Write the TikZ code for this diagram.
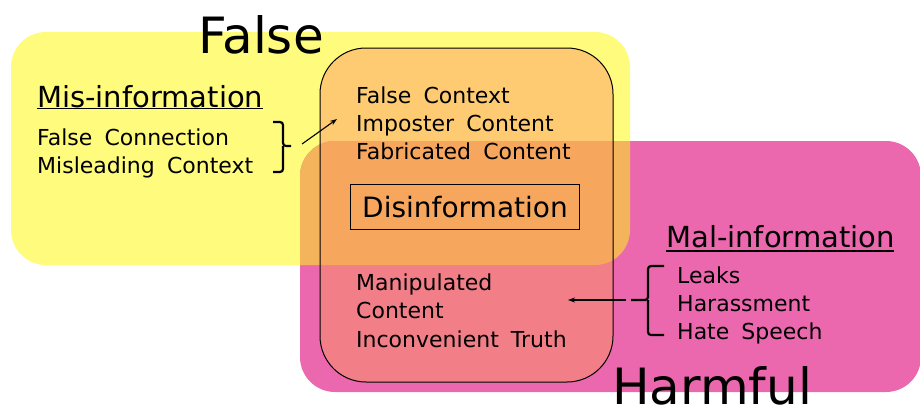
\documentclass[tikz,border=0pt]{standalone}
\usepackage{fontspec}
\setmainfont{DejaVu Sans}
\usetikzlibrary{arrows.meta}
\definecolor{yel}{HTML}{FFFC7D}
\definecolor{pnk}{HTML}{EB68AF}
\definecolor{yp}{HTML}{F3B45B}
\definecolor{iy}{HTML}{FECB72}
\definecolor{iyp}{HTML}{F7A65E}
\definecolor{ip}{HTML}{F27E88}
\newcommand{\itemfont}{\fontsize{22}{28}\selectfont\spaceskip=0.55em\relax}
\begin{document}
\begin{tikzpicture}[x=1pt,y=-1pt,
  big/.style={font=\fontsize{50}{60}\selectfont, inner sep=0pt, anchor=base west},
  head/.style={font=\fontsize{29}{34}\selectfont, inner sep=0pt, anchor=base west},
  item/.style={font=\itemfont, inner sep=0pt, anchor=base west},
  brace/.style={line width=2.2pt, rounded corners=3pt},
  link/.style={line width=1.1pt, -{Stealth[length=7pt,width=5pt]}},
  uline/.style={line width=1.2pt},
]
\useasboundingbox (0,0) rectangle (920,407);
% regions
\fill[yel, rounded corners=35pt] (11,32) rectangle (630,265);
\fill[pnk, rounded corners=35pt] (300,141) rectangle (921,392);
\begin{scope}
  \clip[rounded corners=35pt] (11,32) rectangle (630,265);
  \fill[yp, rounded corners=35pt] (300,141) rectangle (921,392);
\end{scope}
\begin{scope}
  \clip[rounded corners=46pt] (320,48) rectangle (613,382);
  \fill[iy] (300,30) rectangle (640,400);
  \begin{scope}
    \clip[rounded corners=35pt] (300,141) rectangle (921,392);
    \fill[ip] (300,30) rectangle (640,400);
    \clip[rounded corners=35pt] (11,32) rectangle (630,265);
    \fill[iyp] (300,30) rectangle (640,400);
  \end{scope}
\end{scope}
\draw[line width=1pt, rounded corners=46pt] (320,48) rectangle (613,382);
% titles
\node[big] (false) at (198,53) {False};
\node[big] (harmful) at (612,404) {Harmful};
% mis-information
\node[head] (mis) at (37,107) {Mis-information};
\draw[uline] (37,108.5) -- (263,108.5);
\node[item] (mis1) at (37,145) {False Connection};
\node[item] (mis2) at (37,173) {Misleading Context};
\draw[brace] (273,122) -| (283,146) -- (291,146);
\draw[brace] (283,146) |- (273,172);
\coordinate (misTip) at (302,144);
\coordinate (disTop) at (337,119);
\draw[link] (misTip) -- (disTop);
% disinformation
\node[item] (d1) at (356,103) {False Context};
\node[item] (d2) at (356,131) {Imposter Content};
\node[item] (d3) at (356,159) {Fabricated Content};
\node[draw, line width=1pt, minimum width=229pt, minimum height=45pt, inner sep=0pt,
      font=\fontsize{28}{34}\selectfont] (dis) at (465,207) {Disinformation};
\node[item] (d4) at (356,290) {Manipulated};
\node[item] (d5) at (356,318) {Content};
\node[item] (d6) at (356,347) {Inconvenient Truth};
% mal-information
\node[head] (mal) at (666,247) {Mal-information};
\draw[uline] (666,251) -- (894,251);
\node[item] (m1) at (677,283) {Leaks};
\node[item] (m2) at (677,311) {Harassment};
\node[item] (m3) at (677,339) {Hate Speech};
\draw[brace] (664,266) -| (648,300) -- (631,300);
\draw[brace] (648,300) |- (664,335);
\coordinate (malTip) at (626,300);
\coordinate (disLow) at (568,300);
\draw[link] (malTip) -- (disLow);
\end{tikzpicture}
\end{document}
